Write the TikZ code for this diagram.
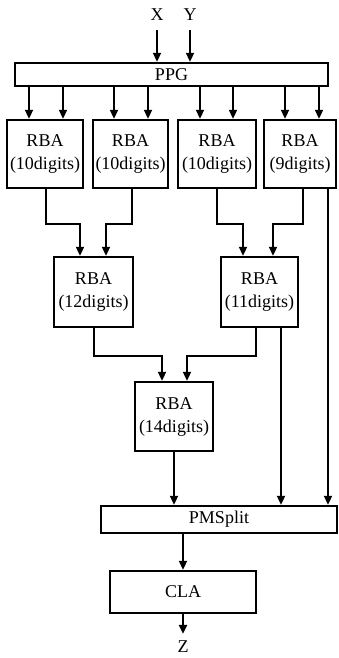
\documentclass[tikz,border=0pt]{standalone}
\usepackage{fontspec}
\setmainfont{Liberation Serif}
\usetikzlibrary{arrows.meta,calc}
\begin{document}
\begin{tikzpicture}[x=1pt,y=-1pt,
  blk/.style={draw,line width=2.4pt,inner sep=0pt,align=center,font=\fontsize{18}{23}\selectfont},
  arr/.style={line width=2pt,-{Triangle[length=9pt,width=8pt]}},
  lbl/.style={inner sep=0pt,font=\fontsize{18}{22}\selectfont}]
\fill[white] (0,0) rectangle (338,658);
\useasboundingbox (0,0) rectangle (338,658);
% nodes
\node[lbl] (X) at (157,15) {X};
\node[lbl] (Y) at (190,15) {Y};
\node[blk,minimum width=313pt,minimum height=23pt] (ppg) at (171.5,74.5) {PPG};
\node[blk,minimum width=76pt,minimum height=68pt] (r1) at (45,154) {RBA\\(10digits)};
\node[blk,minimum width=75pt,minimum height=68pt] (r2) at (130.5,154) {RBA\\(10digits)};
\node[blk,minimum width=78pt,minimum height=68pt] (r3) at (217,154) {RBA\\(10digits)};
\node[blk,minimum width=72pt,minimum height=68pt] (r4) at (300,154) {RBA\\(9digits)};
\node[blk,minimum width=79pt,minimum height=70pt] (r5) at (93.5,292) {RBA\\(12digits)};
\node[blk,minimum width=77pt,minimum height=70pt] (r6) at (259.5,292) {RBA\\(11digits)};
\node[blk,minimum width=78pt,minimum height=69pt] (r7) at (174,416.5) {RBA\\(14digits)};
\node[blk,minimum width=236pt,minimum height=27pt] (pm) at (219,519.5) {PMSplit};
\node[blk,minimum width=146pt,minimum height=42pt] (cla) at (183,592) {CLA};
\node[lbl] (Z) at (183,647) {Z};
% inputs
\draw[arr] ([yshift=-9pt]X.south) -- (X.south |- ppg.north);
\draw[arr] ([yshift=-9pt]Y.south) -- (Y.south |- ppg.north);
% PPG to first level
\foreach \b/\l/\r in {r1/-16/18, r2/-16.5/17.5, r3/-17/16, r4/-15/19}{
  \coordinate (ta) at ([xshift=\l pt]\b.north);
  \coordinate (tb) at ([xshift=\r pt]\b.north);
  \draw[arr] (ppg.south -| ta) -- (ta);
  \draw[arr] (ppg.south -| tb) -- (tb);
}
% first level to second level
\draw[arr] ([xshift=1pt]r1.south) -- ++(0,35) -| ([xshift=-13.5pt]r5.north);
\draw[arr] ([xshift=1.5pt]r2.south) -- ++(0,35) -| ([xshift=12.5pt]r5.north);
\draw[arr] (r3.south) -- ++(0,35) -| ([xshift=-16.5pt]r6.north);
\draw[arr] ([xshift=3pt]r4.south) -- ++(0,35) -| ([xshift=13.5pt]r6.north);
\coordinate (s4) at ([xshift=28pt]r4.south);
\draw[arr] (s4) -- (s4 |- pm.north);
% second level to third level
\draw[arr] (r5.south) -- ++(0,28) -| ([xshift=-12pt]r7.north);
\draw[arr] ([xshift=-3.5pt]r6.south) -- ++(0,28) -| ([xshift=13pt]r7.north);
\coordinate (s6) at ([xshift=21.5pt]r6.south);
\draw[arr] (s6) -- (s6 |- pm.north);
% to PMSplit, CLA, Z
\draw[arr] (r7.south) -- (r7.south |- pm.north);
\draw[arr] (pm.south -| cla.north) -- (cla.north);
\draw[arr] (cla.south) -- ([yshift=7pt]Z.north);
\end{tikzpicture}
\end{document}
